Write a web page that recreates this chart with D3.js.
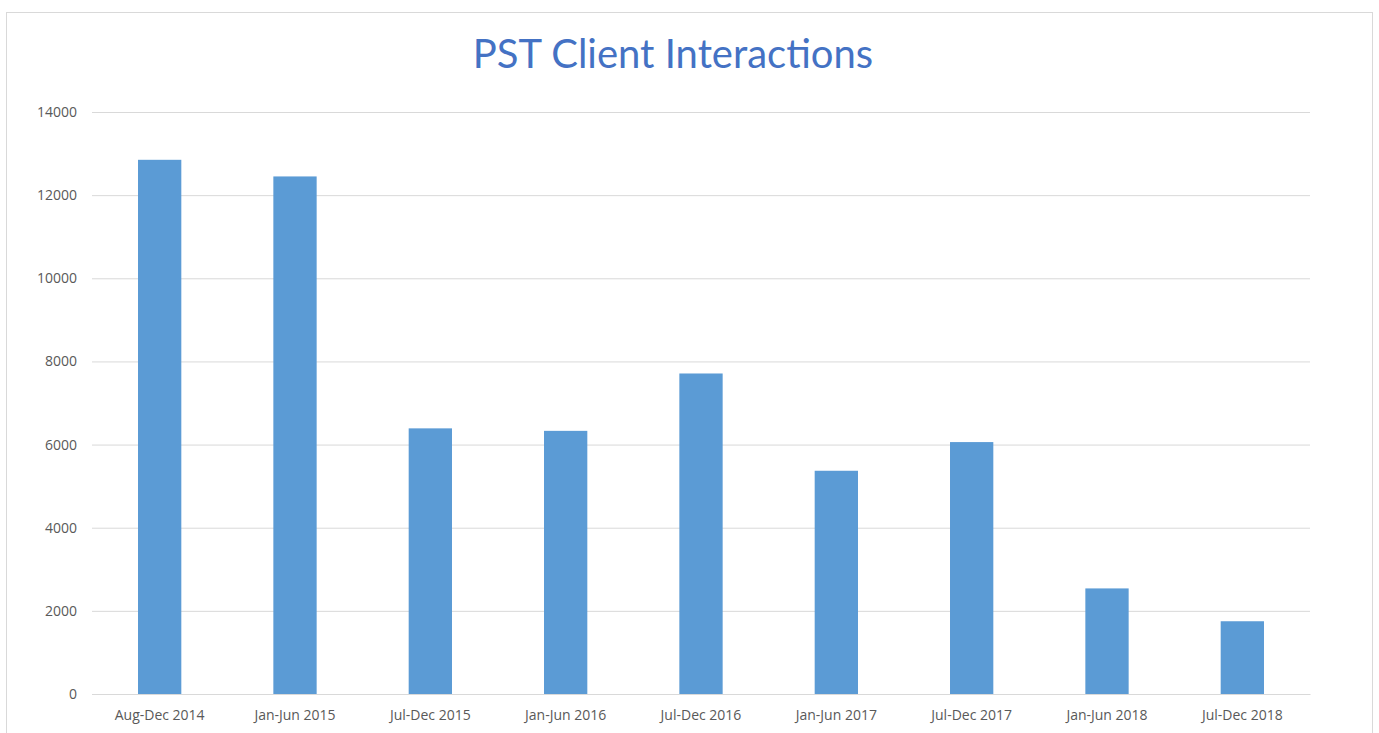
<!DOCTYPE html>
<html>
<head>
<meta charset="utf-8">
<script src="https://cdn.jsdelivr.net/npm/d3@7"></script>
<style>
  body { margin: 0; background: #fff; }
  svg { display: block; }
</style>
</head>
<body>
<div id="chart"></div>
<script>
const categories = ['Aug-Dec 2014', 'Jan-Jun 2015', 'Jul-Dec 2015', 'Jan-Jun 2016', 'Jul-Dec 2016',
  'Jan-Jun 2017', 'Jul-Dec 2017', 'Jan-Jun 2018', 'Jul-Dec 2018'];
const interactions = [12850, 12450, 6390, 6330, 7710, 5370, 6060, 2540, 1750];
const yTicks = [0, 2000, 4000, 6000, 8000, 10000, 12000, 14000];

const width = 1379;
const height = 733;
const margin = { top: 112, right: 69, bottom: 39, left: 92 };
const chartWidth = width - margin.left - margin.right;
const chartHeight = height - margin.top - margin.bottom;

const svg = d3.select('#chart')
  .append('svg')
  .attr('width', width)
  .attr('height', height);

// chart area border
svg.append('rect')
  .attr('x', 6.5)
  .attr('y', 12.5)
  .attr('width', 1366)
  .attr('height', 740)
  .attr('fill', 'none')
  .attr('stroke', '#d9d9d9');

svg.append('text')
  .attr('x', 673)
  .attr('y', 68)
  .attr('text-anchor', 'middle')
  .style('font-family', 'Lato, "Open Sans", sans-serif')
  .style('font-size', '40px')
  .style('fill', '#4472c4')
  .text('PST Client Interactions');

const g = svg.append('g')
  .attr('transform', `translate(${margin.left},${margin.top})`);

const x = d3.scaleBand()
  .domain(categories)
  .range([0, chartWidth])
  .paddingInner(0.68)
  .paddingOuter(0.34);

const y = d3.scaleLinear()
  .domain([0, 14000])
  .range([chartHeight, 0]);

// gridlines + y labels
const yAxis = g.append('g')
  .call(d3.axisLeft(y).tickValues(yTicks).tickFormat(d3.format('d')).tickSize(-chartWidth).tickPadding(15));
yAxis.select('.domain').remove();
yAxis.selectAll('.tick line').attr('stroke', '#d9d9d9');
yAxis.selectAll('.tick text')
  .style('font-family', '"Open Sans", sans-serif')
  .style('font-size', '14px')
  .style('fill', '#595959');

g.selectAll('rect.bar')
  .data(interactions)
  .enter()
  .append('rect')
  .attr('class', 'bar')
  .attr('x', (d, i) => x(categories[i]))
  .attr('y', d => y(d))
  .attr('width', x.bandwidth())
  .attr('height', d => chartHeight - y(d))
  .attr('fill', '#5b9bd5');

const xAxis = g.append('g')
  .attr('transform', `translate(0,${chartHeight})`)
  .call(d3.axisBottom(x).tickSize(0).tickPadding(16));
xAxis.select('.domain').attr('stroke', '#d9d9d9');
xAxis.selectAll('.tick text')
  .style('font-family', '"Open Sans", sans-serif')
  .style('font-size', '14px')
  .style('fill', '#595959');
</script>
</body>
</html>
